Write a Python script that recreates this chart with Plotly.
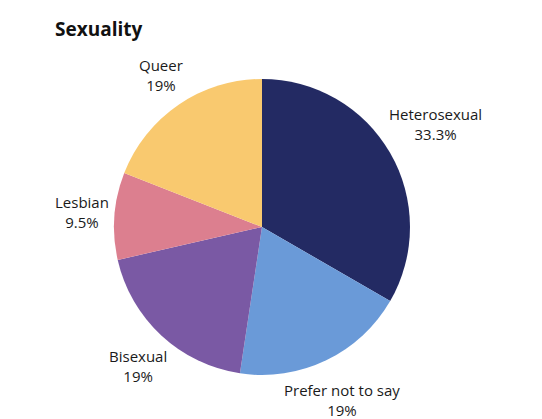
import plotly.graph_objects as go

labels = ["Heterosexual", "Prefer not to say", "Bisexual", "Lesbian", "Queer"]
counts = [7, 4, 4, 2, 4]
pct_text = ["33.3%", "19%", "19%", "9.5%", "19%"]
colors = ["#232a63", "#6a9ad8", "#7a59a4", "#dc7f8f", "#f9c96f"]

W, H = 542, 419
cx, cy, r = 254, 219, 148

# label centre positions in pixels (layout only)
label_pos = {
    "Heterosexual": (427, 116),
    "Prefer not to say": (334, 392),
    "Bisexual": (130, 358),
    "Lesbian": (74, 204),
    "Queer": (153, 67),
}

fig = go.Figure(go.Pie(
    labels=labels,
    values=counts,
    textinfo="none",
    marker=dict(colors=colors, line=dict(width=0)),
    sort=False,
    direction="clockwise",
    rotation=0,
    showlegend=False,
    domain=dict(x=[(cx - r) / W, (cx + r) / W], y=[(H - cy - r) / H, (H - cy + r) / H]),
))

annotations = [dict(
    text="<b>Sexuality</b>", x=45 / W, y=1 - 21 / H, xref="paper", yref="paper",
    xanchor="left", yanchor="middle", showarrow=False,
    font=dict(family="Open Sans, sans-serif", size=19, color="#111111"),
)]
for lab, pt in zip(labels, pct_text):
    px, py = label_pos[lab]
    annotations.append(dict(
        text=f"{lab}<br>{pt}", x=px / W, y=1 - py / H, xref="paper", yref="paper",
        xanchor="center", yanchor="middle", showarrow=False, align="center",
        font=dict(family="Open Sans, sans-serif", size=15, color="#1a1a1a"),
    ))

fig.update_layout(
    width=W, height=H,
    margin=dict(l=0, r=0, t=0, b=0),
    paper_bgcolor="white",
    plot_bgcolor="white",
    annotations=annotations,
)

fig.write_html("out.html")
